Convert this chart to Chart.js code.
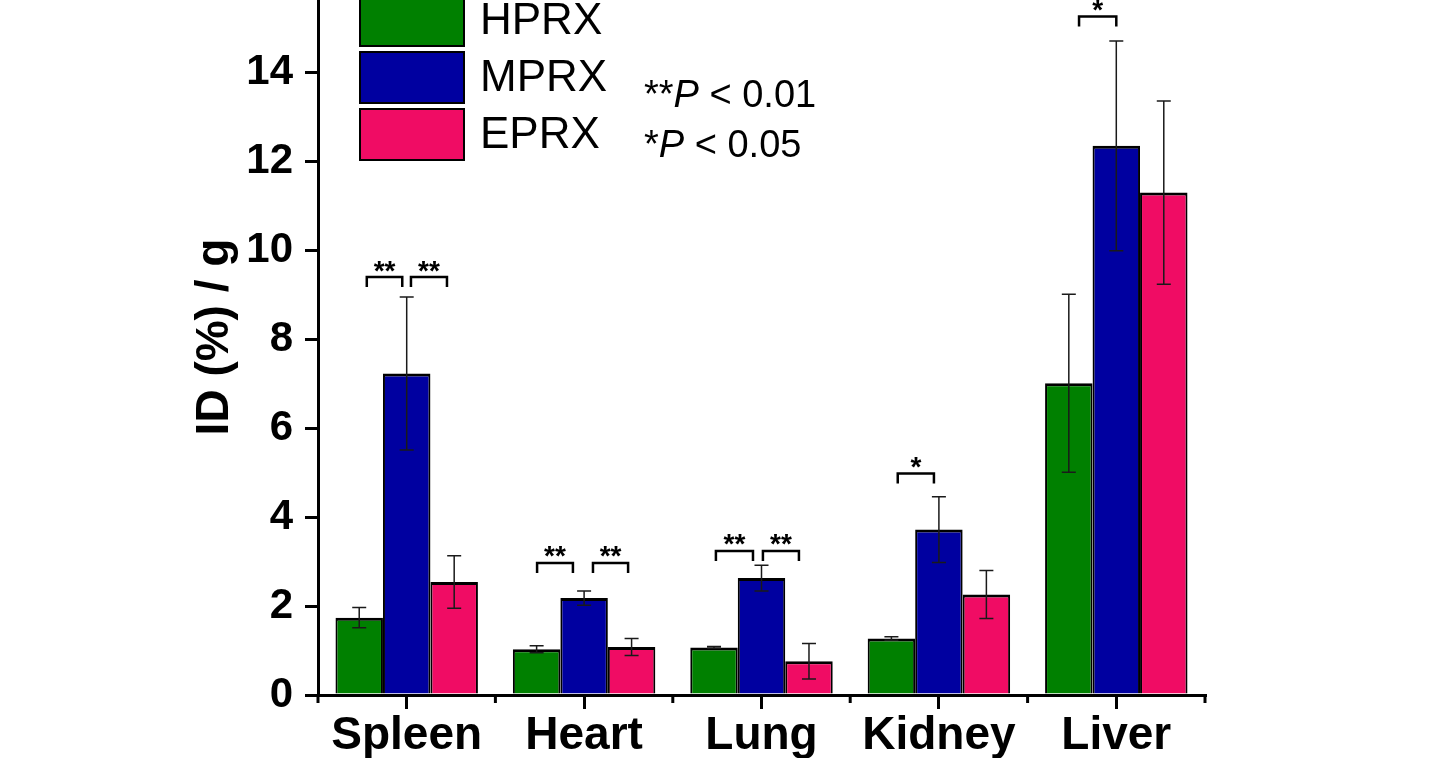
<!DOCTYPE html>
<html>
<head>
<meta charset="utf-8">
<script src="https://cdn.jsdelivr.net/npm/chart.js@4.4.0/dist/chart.umd.min.js"></script>
<style>
  html, body { margin: 0; padding: 0; background: #fff; overflow: hidden; }
  canvas { display: block; }
</style>
</head>
<body>
<canvas id="chart" width="1442" height="758"></canvas>
<script>
// Organs on the x axis
const organs = ['Spleen', 'Heart', 'Lung', 'Kidney', 'Liver'];
const seriesNames = ['HPRX', 'MPRX', 'EPRX'];
const seriesColors = ['#008000', '#0000A0', '#F00C64'];

// Mean ID (%) / g per organ
const hprxValues = [1.74, 1.03, 1.07, 1.27, 7.01];
const mprxValues = [7.23, 2.18, 2.63, 3.72, 12.35];
const eprxValues = [2.54, 1.08, 0.76, 2.26, 11.30];

// Error bar half lengths
const hprxErrors = [0.23, 0.08, 0.02, 0.04, 2.00];
const mprxErrors = [1.72, 0.16, 0.29, 0.74, 2.36];
const eprxErrors = [0.59, 0.19, 0.40, 0.54, 2.06];

const yTicks = [0, 2, 4, 6, 8, 10, 12, 14];
const yMax = 15.63;
const yTitle = 'ID (%) / g';

// Significance brackets: organ index, start / end offset (in categories), height, label
const sigCategory = [0, 0, 1, 1, 2, 2, 3, 4];
const sigFrom = [-0.225, 0.024, -0.265, 0.05, -0.257, 0.008, -0.232, -0.21];
const sigTo = [-0.025, 0.227, -0.063, 0.248, -0.048, 0.211, -0.028, 0.0];
const sigHeight = [9.40, 9.40, 2.97, 2.97, 3.24, 3.24, 4.98, 15.26];
const sigLabel = ['**', '**', '**', '**', '**', '**', '*', '*'];

// P value notes: stars, italic P, rest
const pNotes = [['**', 'P', ' < 0.01'], ['*', 'P', ' < 0.05']];

const valueSets = [hprxValues, mprxValues, eprxValues];
const errorSets = [hprxErrors, mprxErrors, eprxErrors];
const FONT = "'Liberation Sans', Arial, sans-serif";

// Draws error bars, brackets, minor ticks, legend and notes
const extrasPlugin = {
    id: 'extras',
    afterDatasetsDraw(chart) {
        const ctx = chart.ctx;
        const y = chart.scales.y;
        ctx.save();
        ctx.strokeStyle = '#1a1a1a';
        ctx.lineWidth = 1.5;
        errorSets.forEach((errs, di) => {
            const meta = chart.getDatasetMeta(di);
            meta.data.forEach((bar, i) => {
                const v = valueSets[di][i];
                const top = y.getPixelForValue(v + errs[i]);
                const bot = y.getPixelForValue(v - errs[i]);
                ctx.beginPath();
                ctx.moveTo(bar.x, top); ctx.lineTo(bar.x, bot);
                ctx.moveTo(bar.x - 7, top); ctx.lineTo(bar.x + 7, top);
                ctx.moveTo(bar.x - 7, bot); ctx.lineTo(bar.x + 7, bot);
                ctx.stroke();
            });
        });
        ctx.restore();
    },
    afterDraw(chart) {
        const ctx = chart.ctx;
        const x = chart.scales.x, y = chart.scales.y;
        const area = chart.chartArea;
        ctx.save();

        // minor ticks between categories
        ctx.strokeStyle = '#000';
        ctx.lineWidth = 3;
        for (let i = 0; i <= organs.length; i++) {
            const px = x.getPixelForValue(i - 0.5);
            ctx.beginPath();
            ctx.moveTo(px, area.bottom);
            ctx.lineTo(px, area.bottom + 8);
            ctx.stroke();
        }

        // significance brackets
        ctx.lineWidth = 2.5;
        ctx.font = 'bold 28px ' + FONT;
        ctx.fillStyle = '#000';
        ctx.textAlign = 'center';
        ctx.textBaseline = 'alphabetic';
        sigCategory.forEach((c, k) => {
            const x1 = x.getPixelForValue(c + sigFrom[k]);
            const x2 = x.getPixelForValue(c + sigTo[k]);
            const yt = y.getPixelForValue(sigHeight[k]);
            ctx.beginPath();
            ctx.moveTo(x1, yt + 10);
            ctx.lineTo(x1, yt);
            ctx.lineTo(x2, yt);
            ctx.lineTo(x2, yt + 10);
            ctx.stroke();
            const m = ctx.measureText(sigLabel[k]);
            const cy = yt - 11;
            const base = cy - (m.actualBoundingBoxDescent - m.actualBoundingBoxAscent) / 2;
            ctx.fillText(sigLabel[k], (x1 + x2) / 2, base);
        });

        // legend boxes
        ctx.textAlign = 'left';
        ctx.textBaseline = 'middle';
        ctx.font = '44px ' + FONT;
        seriesNames.forEach((name, i) => {
            const top = -5 + i * 57;
            ctx.fillStyle = seriesColors[i];
            ctx.fillRect(360, top, 104, 51);
            ctx.lineWidth = 2;
            ctx.strokeStyle = '#000';
            ctx.strokeRect(360, top, 104, 51);
            ctx.fillStyle = '#000';
            ctx.fillText(name, 480, top + 27);
        });

        // P value notes
        ctx.textBaseline = 'alphabetic';
        pNotes.forEach((parts, i) => {
            let px = 644;
            const base = 107 + i * 50;
            parts.forEach((txt, j) => {
                ctx.font = (j === 1 ? 'italic ' : '') + '38px ' + FONT;
                ctx.fillText(txt, px, base);
                px += ctx.measureText(txt).width;
            });
        });

        // y axis title
        ctx.translate(215, 337);
        ctx.rotate(-Math.PI / 2);
        ctx.textAlign = 'center';
        ctx.textBaseline = 'middle';
        ctx.font = 'bold 46px ' + FONT;
        ctx.fillText(yTitle, 0, 0);
        ctx.restore();
    }
};

const ctx = document.getElementById('chart').getContext('2d');
new Chart(ctx, {
    type: 'bar',
    data: {
        labels: organs,
        datasets: valueSets.map((vals, i) => ({
            label: seriesNames[i],
            data: vals,
            backgroundColor: seriesColors[i],
            borderColor: '#000',
            borderWidth: { top: 3, left: 2, right: 2, bottom: 0 },
            categoryPercentage: 0.803,
            barPercentage: 1.0
        }))
    },
    options: {
        responsive: false,
        animation: false,
        layout: { padding: { left: 190, right: 237, top: 0, bottom: 0 } },
        plugins: {
            legend: { display: false },
            tooltip: { enabled: false }
        },
        scales: {
            x: {
                offset: true,
                grid: { offset: false, drawOnChartArea: false, tickLength: 14, lineWidth: 3, color: '#000' },
                border: { display: true, width: 3, color: '#000' },
                ticks: {
                    color: '#000',
                    font: { family: FONT, size: 46, weight: 'bold' },
                    padding: 0,
                    maxRotation: 0,
                    autoSkip: false
                },
                afterFit(scale) {
                    scale.height = 63;
                    scale.paddingLeft = 0;
                    scale.paddingRight = 0;
                }
            },
            y: {
                min: 0,
                max: yMax,
                afterBuildTicks(scale) { scale.ticks = yTicks.map(v => ({ value: v })); },
                grid: { drawOnChartArea: false, tickLength: 13, lineWidth: 3, color: '#000' },
                border: { display: true, width: 3, color: '#000' },
                ticks: {
                    color: '#000',
                    font: { family: FONT, size: 42, weight: 'bold' },
                    padding: 12
                },
                afterFit(scale) {
                    scale.width = 128;
                    scale.paddingTop = 0;
                    scale.paddingBottom = 0;
                }
            }
        }
    },
    plugins: [extrasPlugin]
});
</script>
</body>
</html>
